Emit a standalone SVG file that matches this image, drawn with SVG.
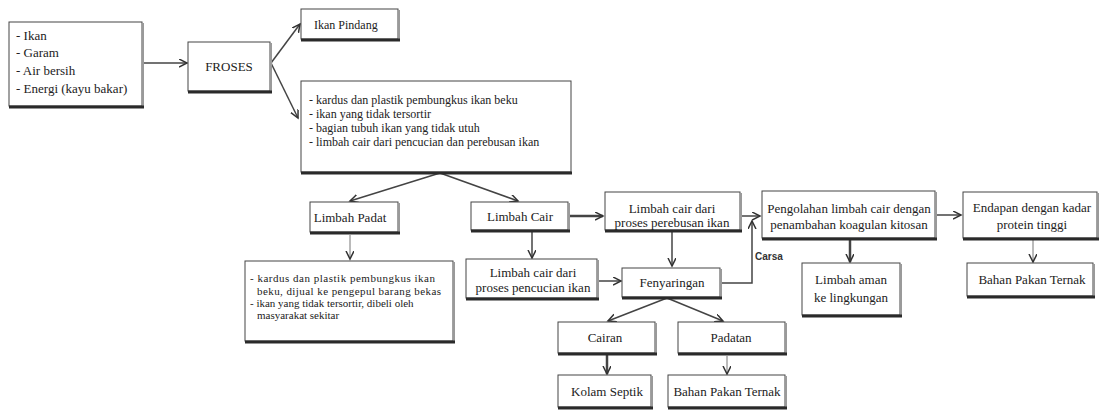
<svg xmlns="http://www.w3.org/2000/svg" width="1102" height="410" viewBox="0 0 1102 410">
<defs>
<style>
.box{fill:#fff;stroke:#444;stroke-width:1}
.shr{stroke:#9a9a9a;stroke-width:2}
.shb{stroke:#2a2a2a;stroke-width:3}
.t{font-family:"Liberation Serif","Times New Roman",serif;font-size:13px;fill:#222}
.c{text-anchor:middle}
.s{font-size:12px}
.xs{font-size:11px}
.lb{font-family:"Liberation Sans",Arial,sans-serif;font-size:10px;font-weight:bold;fill:#333}
.ln{fill:none;stroke:#444;stroke-width:1.5}
.thk{stroke-width:2.5}
.thn{stroke:#777;stroke-width:1}
</style>
<marker id="ah" markerUnits="userSpaceOnUse" markerWidth="10" markerHeight="10" refX="8" refY="4" orient="auto">
<path d="M0,0 L8,4 L0,8" fill="none" stroke="#333" stroke-width="1.5"/>
</marker>
</defs>
<rect width="1102" height="410" fill="#fff"/>

<g id="connectors">
<line class="ln" x1="142" y1="63" x2="187" y2="63" marker-end="url(#ah)"/>
<line class="ln" x1="271" y1="63" x2="300" y2="24" marker-end="url(#ah)"/>
<line class="ln" x1="271" y1="63" x2="298" y2="118" marker-end="url(#ah)"/>
<line class="ln" x1="440" y1="173" x2="350" y2="201" marker-end="url(#ah)"/>
<line class="ln" x1="440" y1="173" x2="518" y2="201" marker-end="url(#ah)"/>
<line class="ln thn" x1="350" y1="235" x2="350" y2="259" marker-end="url(#ah)"/>
<line class="ln thk" x1="570" y1="216" x2="603" y2="216" marker-end="url(#ah)"/>
<line class="ln" x1="532" y1="231" x2="532" y2="258" marker-end="url(#ah)"/>
<line class="ln" x1="672" y1="232" x2="672" y2="266" marker-end="url(#ah)"/>
<line class="ln" x1="598" y1="281" x2="621" y2="281" marker-end="url(#ah)"/>
<polyline class="ln" points="721,283 752,283 752,221" marker-end="url(#ah)"/>
<line class="ln" x1="742" y1="216" x2="760" y2="216" marker-end="url(#ah)"/>
<line class="ln thk" x1="850" y1="240" x2="850" y2="262" marker-end="url(#ah)"/>
<line class="ln" x1="937" y1="215" x2="961" y2="215" marker-end="url(#ah)"/>
<line class="ln thn" x1="1033" y1="240" x2="1033" y2="262" marker-end="url(#ah)"/>
<line class="ln" x1="667" y1="298" x2="608" y2="321" marker-end="url(#ah)"/>
<line class="ln" x1="667" y1="298" x2="723" y2="321" marker-end="url(#ah)"/>
<line class="ln thk" x1="607" y1="355" x2="607" y2="374" marker-end="url(#ah)"/>
<line class="ln thn" x1="727" y1="356" x2="727" y2="374" marker-end="url(#ah)"/>
<text class="lb" x="755" y="260">Carsa</text>
</g>

<g id="n-input">
<rect class="box" x="9" y="22" width="133" height="84"/>
<line class="shr" x1="143" y1="23" x2="143" y2="106"/><line class="shb" x1="9" y1="107" x2="144" y2="107"/>
<text class="t" x="16" y="40">- Ikan</text>
<text class="t" x="16" y="57">- Garam</text>
<text class="t" x="16" y="75">- Air bersih</text>
<text class="t" x="16" y="93">- Energi (kayu bakar)</text>
</g>

<g id="n-proses">
<rect class="box" x="188" y="42" width="82" height="49"/>
<line class="shr" x1="271" y1="43" x2="271" y2="91"/><line class="shb" x1="188" y1="92" x2="272" y2="92"/>
<text class="t c" x="229" y="71">FROSES</text>
</g>

<g id="n-pindang">
<rect class="box" x="301" y="9" width="97" height="30"/>
<line class="shr" x1="399" y1="10" x2="399" y2="39"/><line class="shb" x1="301" y1="40" x2="400" y2="40"/>
<text class="t s" x="314" y="29">Ikan Pindang</text>
</g>

<g id="n-limbah-list">
<rect class="box" x="301" y="81" width="270" height="91"/>
<line class="shb" x1="301" y1="173" x2="572" y2="173"/>
<text class="t s" x="309" y="104">- kardus dan plastik pembungkus ikan beku</text>
<text class="t s" x="309" y="118">- ikan yang tidak tersortir</text>
<text class="t s" x="309" y="132">- bagian tubuh ikan yang tidak utuh</text>
<text class="t s" x="309" y="146">- limbah cair dari pencucian dan perebusan ikan</text>
</g>

<g id="n-padat">
<rect class="box" x="310" y="202" width="88" height="30"/>
<line class="shr" x1="399" y1="203" x2="399" y2="232"/><line class="shb" x1="310" y1="233" x2="400" y2="233"/>
<text class="t c" x="350" y="222">Limbah Padat</text>
</g>

<g id="n-cair">
<rect class="box" x="471" y="202" width="97" height="28"/>
<line class="shr" x1="569" y1="203" x2="569" y2="230"/><line class="shb" x1="471" y1="231" x2="570" y2="231"/>
<text class="t c" x="520" y="221">Limbah Cair</text>
</g>

<g id="n-padat-ket">
<rect class="box" x="245" y="261" width="208" height="80"/>
<line class="shr" x1="454" y1="262" x2="454" y2="341"/><line class="shb" x1="245" y1="342" x2="455" y2="342"/>
<text class="t xs" x="250" y="282" textLength="185" lengthAdjust="spacing">- kardus dan plastik pembungkus ikan</text>
<text class="t xs" x="257" y="295" textLength="184" lengthAdjust="spacing">beku, dijual ke pengepul barang bekas</text>
<text class="t xs" x="250" y="307">- ikan yang tidak tersortir,  dibeli oleh</text>
<text class="t xs" x="257" y="319">masyarakat sekitar</text>
</g>

<g id="n-pencucian">
<rect class="box" x="466" y="259" width="131" height="39"/>
<line class="shr" x1="598" y1="260" x2="598" y2="298"/><line class="shb" x1="466" y1="299" x2="599" y2="299"/>
<text class="t c" x="533" y="277">Limbah cair dari</text>
<text class="t c" x="533" y="292">proses pencucian ikan</text>
</g>

<g id="n-perebusan">
<rect class="box" x="605" y="192" width="135" height="38"/>
<line class="shr" x1="741" y1="193" x2="741" y2="230"/><line class="shb" x1="605" y1="231" x2="742" y2="231"/>
<text class="t c" x="672" y="213">Limbah cair dari</text>
<text class="t c" x="672" y="227">proses perebusan ikan</text>
</g>

<g id="n-penyaringan">
<rect class="box" x="622" y="268" width="98" height="29"/>
<line class="shr" x1="721" y1="269" x2="721" y2="297"/><line class="shb" x1="622" y1="298" x2="722" y2="298"/>
<text class="t c" x="672" y="287">Fenyaringan</text>
</g>

<g id="n-cairan">
<rect class="box" x="558" y="322" width="97" height="31"/>
<line class="shr" x1="656" y1="323" x2="656" y2="353"/><line class="shb" x1="558" y1="354" x2="657" y2="354"/>
<text class="t c" x="605" y="342">Cairan</text>
</g>

<g id="n-padatan">
<rect class="box" x="678" y="322" width="107" height="31"/>
<line class="shr" x1="786" y1="323" x2="786" y2="353"/><line class="shb" x1="678" y1="354" x2="787" y2="354"/>
<text class="t c" x="731" y="342">Padatan</text>
</g>

<g id="n-septik">
<rect class="box" x="558" y="375" width="93" height="32"/>
<line class="shr" x1="652" y1="376" x2="652" y2="407"/><line class="shb" x1="558" y1="408" x2="653" y2="408"/>
<text class="t c" x="607" y="396">Kolam Septik</text>
</g>

<g id="n-pakan1">
<rect class="box" x="668" y="375" width="117" height="32"/>
<line class="shr" x1="786" y1="376" x2="786" y2="407"/><line class="shb" x1="668" y1="408" x2="787" y2="408"/>
<text class="t c" x="727" y="396">Bahan Pakan Ternak</text>
</g>

<g id="n-pengolahan">
<rect class="box" x="762" y="191" width="173" height="47"/>
<line class="shr" x1="936" y1="192" x2="936" y2="238"/><line class="shb" x1="762" y1="239" x2="937" y2="239"/>
<text class="t c" x="849" y="213">Pengolahan limbah cair dengan</text>
<text class="t c" x="849" y="229">penambahan koagulan kitosan</text>
</g>

<g id="n-aman">
<rect class="box" x="802" y="263" width="98" height="52"/>
<line class="shr" x1="901" y1="264" x2="901" y2="315"/><line class="shb" x1="802" y1="316" x2="902" y2="316"/>
<text class="t c" x="851" y="284">Limbah aman</text>
<text class="t c" x="851" y="302">ke lingkungan</text>
</g>

<g id="n-endapan">
<rect class="box" x="963" y="192" width="134" height="46"/>
<line class="shr" x1="1098" y1="193" x2="1098" y2="238"/><line class="shb" x1="963" y1="239" x2="1099" y2="239"/>
<text class="t c" x="1032" y="212">Endapan dengan kadar</text>
<text class="t c" x="1032" y="229">protein tinggi</text>
</g>

<g id="n-pakan2">
<rect class="box" x="967" y="263" width="126" height="33"/>
<line class="shr" x1="1094" y1="264" x2="1094" y2="296"/><line class="shb" x1="967" y1="297" x2="1095" y2="297"/>
<text class="t c" x="1032" y="284">Bahan Pakan Ternak</text>
</g>
</svg>
